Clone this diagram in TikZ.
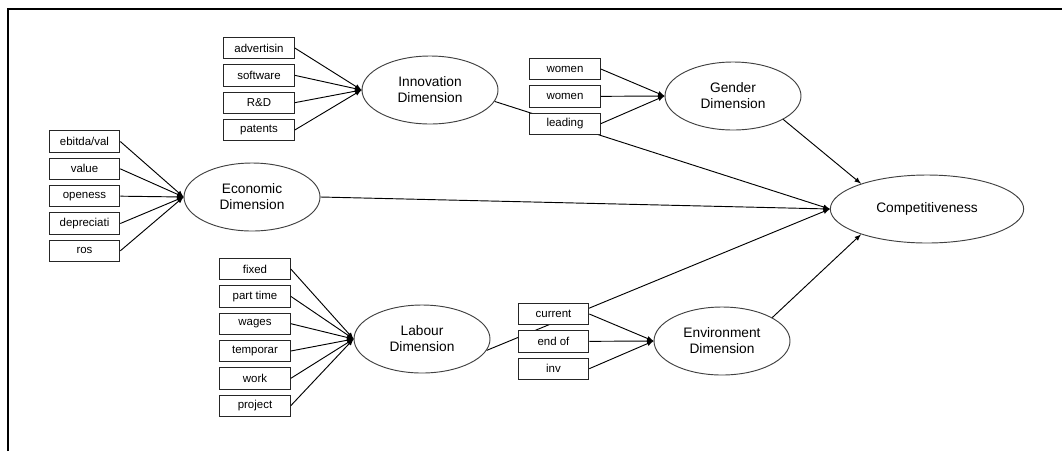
\documentclass[tikz,border=0pt]{standalone}
\usepackage{fontspec}
\setmainfont{Liberation Sans}
\usetikzlibrary{arrows,shapes.geometric,positioning,backgrounds}

\begin{document}
\begin{tikzpicture}[x=0.75pt,y=-0.75pt,->,>=latex,node distance=20.5pt,line width=0.7pt,auto]
 				 \tikzstyle{indic}=[rectangle, draw=black!85, fill=white, text=black, minimum width=53pt, minimum height=16pt, inner sep=0pt, font=\fontsize{8.6}{10}\selectfont]
 				 \tikzstyle{dimen}=[ellipse, draw=black!75, fill=white, text=black, minimum width=102pt, minimum height=51pt, inner sep=0pt, align=center, font=\fontsize{10.3}{12}\selectfont]
				\useasboundingbox (0,0) rectangle (1062,451);
				\draw[-, line width=1.1pt] (8,451) -- (8,9) -- (1062,9);
				% latent dimensions
 					 \node[dimen] 			(inno) at (430,90)        {Innovation\\Dimension};
 					 \node[dimen] 			(eco) at (252,197)        {Economic\\Dimension};
 					 \node[dimen] 			(gen) at (733,96)         {Gender\\Dimension};
 					 \node[dimen] 			(lab) at (422,339)        {Labour\\Dimension};
 					 \node[dimen] 			(env) at (722,341)        {Environment\\Dimension};
 					 \node[dimen, minimum width=145pt] (comp) at (927,209) {Competitiveness};
				% indicators
 					 \node[indic] 			(adv) at (259,48)         {advertisin};
 					 \node[indic] 			(soft) [below of=adv]     {software};
 					 \node[indic] 			(rd) [below of=soft]      {R\&D};
 					 \node[indic] 			(pat) [below of=rd]       {patents};
 					 \node[indic] 			(ebit) at (84.5,141.5)    {ebitda/val};
 					 \node[indic] 			(val) [below of=ebit]     {value};
 					 \node[indic] 			(open) [below of=val]     {openess};
 					 \node[indic] 			(depr) [below of=open]    {depreciati};
 					 \node[indic] 			(ros) [below of=depr]     {ros};
 					 \node[indic] 			(womA) at (565,69)        {women};
 					 \node[indic] 			(womB) [below of=womA]    {women};
 					 \node[indic] 			(lead) [below of=womB]    {leading};
 					 \node[indic] 			(fix) at (255,269)        {fixed};
 					 \node[indic] 			(part) [below of=fix]     {part time};
 					 \node[indic] 			(wag) [below of=part]     {wages};
 					 \node[indic] 			(temp) [below of=wag]     {temporar};
 					 \node[indic] 			(work) [below of=temp]    {work};
 					 \node[indic] 			(proj) [below of=work]    {project};
 					 \node[indic] 			(curr) at (553.5,314)     {current};
 					 \node[indic] 			(endo) [below of=curr]    {end of};
 					 \node[indic] 			(inv) [below of=endo]     {inv};
				\path
				(adv.east) edge (inno.west)
				(soft.east) edge (inno.west)
				(rd.east) edge (inno.west)
				(pat.east) edge (inno.west)
				(ebit.east) edge (eco.west)
				(val.east) edge (eco.west)
				(open.east) edge (eco.west)
				(depr.east) edge (eco.west)
				(ros.east) edge (eco.west)
				(womA.east) edge (gen.west)
				(womB.east) edge (gen.west)
				(lead.east) edge (gen.west)
				(fix.east) edge (lab.west)
				(part.east) edge (lab.west)
				(wag.east) edge (lab.west)
				(temp.east) edge (lab.west)
				(work.east) edge (lab.west)
				(proj.east) edge (lab.west)
				(curr.east) edge (env.west)
				(endo.east) edge (env.west)
				(inv.east) edge (env.west)
				(eco.east) edge (comp.west)
				(gen.-25) edge (comp.159)
				(env.25) edge (comp.201);
				\begin{pgfonlayer}{background}
				\path[line width=0.7pt]
				(inno.-10) edge[->, line width=0.7pt] (comp.west)
				(lab.-10) edge[->, line width=0.7pt] (comp.west);
				\end{pgfonlayer}
\end{tikzpicture}
\end{document}
